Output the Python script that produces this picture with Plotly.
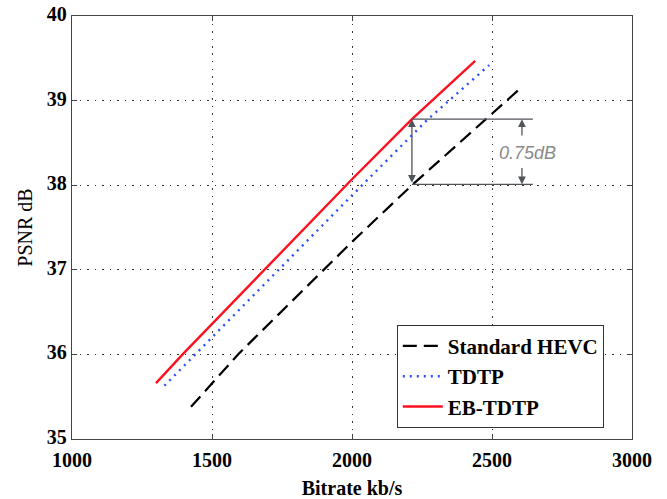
import plotly.graph_objects as go

# Data
hevc_x = [1425, 1593, 2000, 2214, 2593]
hevc_y = [35.38, 36.0, 37.33, 38.0, 39.12]
tdtp_x = [1330, 1440, 2000, 2268, 2490]
tdtp_y = [35.63, 36.0, 37.88, 38.77, 39.42]
eb_x = [1300, 1395, 2000, 2214, 2440]
eb_y = [35.66, 36.0, 38.07, 38.78, 39.47]
names = ["Standard HEVC", "TDTP", "EB-TDTP"]
x_ticks = [1000, 1500, 2000, 2500, 3000]
y_ticks = [35, 36, 37, 38, 39, 40]
gain_x = 2214
gain_hi = 38.78
gain_lo = 38.01
gain_label = "0.75dB"

serif = "Liberation Serif, Times New Roman, serif"

fig = go.Figure()
fig.add_trace(go.Scatter(x=hevc_x, y=hevc_y, mode="lines", name=names[0],
                         line=dict(color="black", width=2.2, dash="14px,7px")))
fig.add_trace(go.Scatter(x=tdtp_x, y=tdtp_y, mode="lines", name=names[1],
                         line=dict(color="#2a4dff", width=2.4, dash="2px,5px")))
fig.add_trace(go.Scatter(x=eb_x, y=eb_y, mode="lines", name=names[2],
                         line=dict(color="#ff1020", width=2.4)))

gcol = "#50555a"
for yv in (gain_hi, gain_lo):
    fig.add_shape(type="line", xref="x", yref="y", x0=gain_x, x1=2646, y0=yv, y1=yv,
                  line=dict(color=gcol, width=1.3))
fig.add_annotation(x=gain_x, y=gain_hi, ax=gain_x, ay=gain_lo, xref="x", yref="y",
                   axref="x", ayref="y", showarrow=True, arrowhead=2, arrowsize=1.2,
                   arrowside="end+start", arrowwidth=1.3, arrowcolor=gcol, text="")
fig.add_annotation(x=2607, y=gain_hi, ax=2607, ay=38.57, xref="x", yref="y",
                   axref="x", ayref="y", showarrow=True, arrowhead=2, arrowsize=1.2,
                   arrowwidth=1.3, arrowcolor=gcol, text="")
fig.add_annotation(x=2607, y=gain_lo, ax=2607, ay=38.22, xref="x", yref="y",
                   axref="x", ayref="y", showarrow=True, arrowhead=2, arrowsize=1.2,
                   arrowwidth=1.3, arrowcolor=gcol, text="")
fig.add_annotation(x=2628, y=38.38, xref="x", yref="y", showarrow=False, text=gain_label,
                   font=dict(family="Liberation Sans, Arial, sans-serif", size=18,
                             color="#8a8a8a", style="italic"))

axis_common = dict(showline=True, linecolor="#444", linewidth=1.3, mirror="ticks",
                   ticks="inside", ticklen=5, tickcolor="#444",
                   showgrid=True, gridcolor="#333", griddash="1.5px,6px", gridwidth=1.2,
                   zeroline=False, automargin=False,
                   tickfont=dict(family=serif, size=20, color="black", weight="bold"))

fig.update_xaxes(range=[1000, 3000], tickvals=x_ticks, **axis_common,
                 ticklabelstandoff=3,
                 title=dict(text="Bitrate kb/s", standoff=10,
                            font=dict(family=serif, size=20, color="black", weight="bold")))
fig.update_yaxes(range=[35, 40], tickvals=y_ticks, **axis_common,
                 ticklabelshift=-2,
                 title=dict(text="PSNR dB", standoff=8,
                            font=dict(family=serif, size=20, color="black")))

fig.update_layout(
    width=667, height=499,
    margin=dict(l=72, r=35, t=16, b=60),
    plot_bgcolor="white", paper_bgcolor="white",
    showlegend=True,
    legend=dict(x=0.580, y=0.27, xanchor="left", yanchor="top",
                bgcolor="white", bordercolor="#333", borderwidth=1,
                font=dict(family=serif, size=21, color="black", weight="bold"),
                tracegroupgap=0, itemwidth=40),
)

fig.write_html("out.html", config={"displayModeBar": False},
               post_script="document.body.style.margin='0';document.body.style.overflow='hidden';")
